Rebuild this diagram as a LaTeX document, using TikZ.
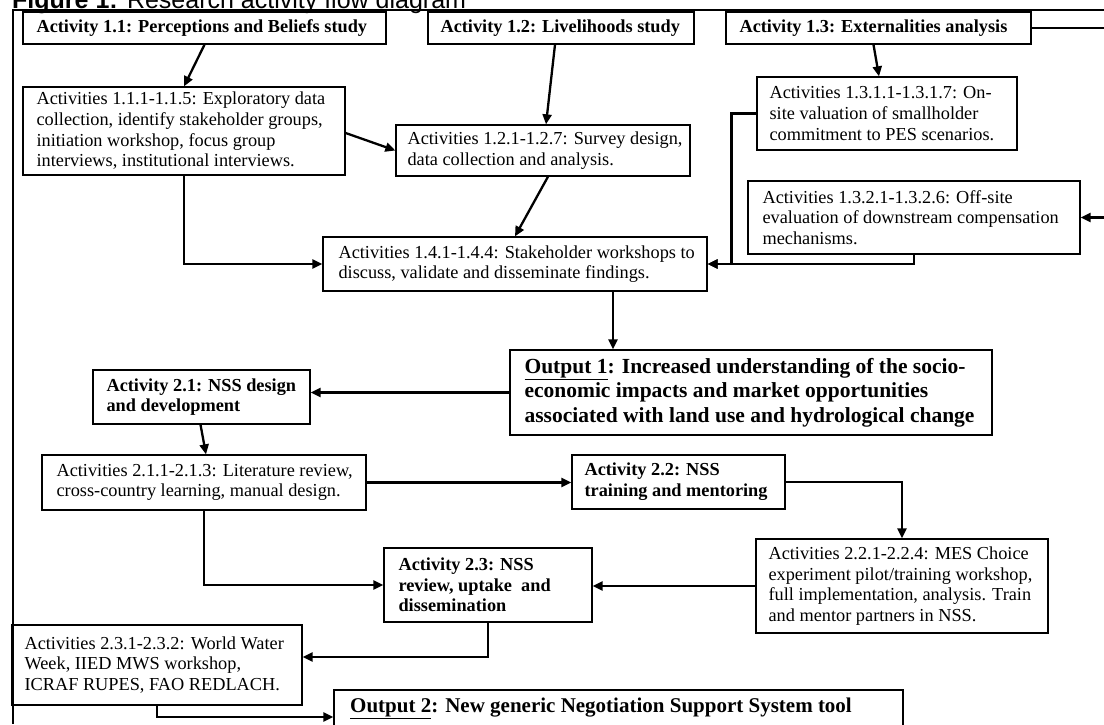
\documentclass[tikz,border=0pt]{standalone}
\usepackage{fontspec}
\setmainfont{Liberation Serif}
\newfontfamily\arialf{Liberation Sans}
\usetikzlibrary{arrows.meta}
\begin{document}
\begin{tikzpicture}[x=1pt,y=-1pt,
  box/.style={draw, line width=1.3pt, inner sep=0pt, rectangle},
  txt/.style={inner sep=0pt, align=left, anchor=west, font=\fontsize{18.3}{20.7}\selectfont},
  btxt/.style={txt, font=\bfseries\fontsize{18.3}{20.7}\selectfont},
  otxt/.style={txt, font=\bfseries\fontsize{21.5}{24.5}\selectfont},
  conn/.style={line width=2.3pt},
  arr/.style={conn, -{Triangle[length=10pt,width=9pt]}},
  frame/.style={line width=2pt}]
\useasboundingbox (0,0) rectangle (1104,724);
\fill[white] (0,0) rectangle (1104,724);
% title and frame
\node[anchor=base west, inner sep=0pt, font=\arialf\fontsize{25}{30}\selectfont] (title) at (12,8) {\textbf{Figure 1:} Research activity flow diagram};
\draw[frame] (1104,10) -- (13,10) -- (13,724);
% boxes
\node[box, minimum width=363pt, minimum height=32pt] (a11) at (204.5,28) {};
\node[box, minimum width=266pt, minimum height=32pt] (a12) at (561,28) {};
\node[box, minimum width=305pt, minimum height=32pt] (a13) at (878.5,28) {};
\node[box, minimum width=322pt, minimum height=88pt] (a111) at (184,131) {};
\node[box, minimum width=294pt, minimum height=51pt] (a121) at (543,150.5) {};
\node[box, minimum width=260pt, minimum height=73pt] (a131) at (887,113.5) {};
\node[box, minimum width=332pt, minimum height=73pt] (a132) at (914,217.5) {};
\node[box, minimum width=384pt, minimum height=54pt] (a141) at (515,264) {};
\node[box, minimum width=482pt, minimum height=85pt] (out1) at (751,392.5) {};
\node[box, minimum width=217pt, minimum height=54pt] (a21) at (201.5,397) {};
\node[box, minimum width=324pt, minimum height=55pt] (a211) at (204,482.5) {};
\node[box, minimum width=213pt, minimum height=54pt] (a22) at (678.5,482) {};
\node[box, minimum width=292pt, minimum height=94pt] (a221) at (902,586) {};
\node[box, minimum width=208pt, minimum height=74pt] (a23) at (488,585) {};
\node[box, minimum width=290pt, minimum height=80pt] (a231) at (157,665) {};
\node[box, minimum width=569pt, minimum height=60pt] (out2) at (618.5,720) {};
% texts
\node[btxt] (a11t) at ([xshift=14pt]a11.west) {Activity 1.1: Perceptions and Beliefs study};
\node[btxt] (a12t) at ([xshift=13pt]a12.west) {Activity 1.2: Livelihoods study};
\node[btxt] (a13t) at ([xshift=14pt]a13.west) {Activity 1.3: Externalities analysis};
\node[txt] (a111t) at ([xshift=14pt]a111.west) {Activities 1.1.1-1.1.5: Exploratory data\\collection, identify stakeholder groups,\\initiation workshop, focus group\\interviews, institutional interviews.};
\node[txt] (a121t) at ([xshift=12pt]a121.west) {Activities 1.2.1-1.2.7: Survey design,\\data collection and analysis.};
\node[txt] (a131t) at ([xshift=13pt]a131.west) {Activities 1.3.1.1-1.3.1.7: On-\\site valuation of smallholder\\commitment to PES scenarios.};
\node[txt] (a132t) at ([xshift=15pt]a132.west) {Activities 1.3.2.1-1.3.2.6: Off-site\\evaluation of downstream compensation\\mechanisms.};
\node[txt] (a141t) at ([xshift=16pt]a141.west) {Activities 1.4.1-1.4.4: Stakeholder workshops to\\discuss, validate and disseminate findings.};
\node[otxt] (out1t) at ([xshift=15pt]out1.west) {\underline{Output 1}: Increased understanding of the socio-\\economic impacts and market opportunities\\associated with land use and hydrological change};
\node[btxt] (a21t) at ([xshift=14pt]a21.west) {Activity 2.1: NSS design\\and development};
\node[txt] (a211t) at ([xshift=15pt]a211.west) {Activities 2.1.1-2.1.3: Literature review,\\cross-country learning, manual design.};
\node[btxt] (a22t) at ([xshift=13pt]a22.west) {Activity 2.2: NSS\\training and mentoring};
\node[txt] (a221t) at ([xshift=13pt]a221.west) {Activities 2.2.1-2.2.4: MES Choice\\experiment pilot/training workshop,\\full implementation, analysis. Train\\and mentor partners in NSS.};
\node[btxt] (a23t) at ([xshift=15pt]a23.west) {Activity 2.3: NSS\\review, uptake\ \ and\\dissemination};
\node[txt] (a231t) at ([xshift=13pt]a231.west) {Activities 2.3.1-2.3.2: World Water\\Week, IIED MWS workshop,\\ICRAF RUPES, FAO REDLACH.};
\node[anchor=base west, inner sep=0pt, font=\bfseries\fontsize{21}{24}\selectfont] (out2t) at (350,712) {\underline{Output 2}: New generic Negotiation Support System tool};
% free ends at the right edge
\coordinate (re1) at (1104,28);
\coordinate (re2) at (1104,217.5);
% connectors
\draw[arr] (a11.south) -- (a111.north);
\draw[arr] ([yshift=-2pt]a111.east) -- (a121.west);
\draw[arr] ([xshift=-6pt]a12.south) -- ([xshift=3pt]a121.north);
\draw[arr] ([xshift=-5pt]a13.south) -- ([xshift=-8pt]a131.north);
\draw[conn] (a13.east) -- (re1);
\draw[arr] (re2) -- (a132.east);
\draw[arr] (a131.west) -- ++(-25,0) |- (a141.east);
\draw[arr] (a132.south) |- (a141.east);
\draw[arr] (a111.south) |- (a141.west);
\draw[arr] ([xshift=5pt]a121.south) -- (a141.north);
\draw[arr] ([xshift=98pt]a141.south) -- ([xshift=98pt]a141.south |- out1.north);
\draw[arr] (out1.west) -- (out1.west -| a21.east);
\draw[arr] ([xshift=-1pt]a21.south) -- ([xshift=2pt]a211.north);
\draw[arr] (a211.east) -- (a211.east -| a22.west);
\draw[arr] (a22.east) -| (a221.north);
\draw[arr] (a221.west) -- (a221.west -| a23.east);
\draw[arr] (a211.south) |- (a23.west);
\draw[arr] (a23.south) |- ([yshift=8pt]a231.east);
\draw[arr] (a231.south) |- ([yshift=3pt]out2.west);
\end{tikzpicture}
\end{document}
